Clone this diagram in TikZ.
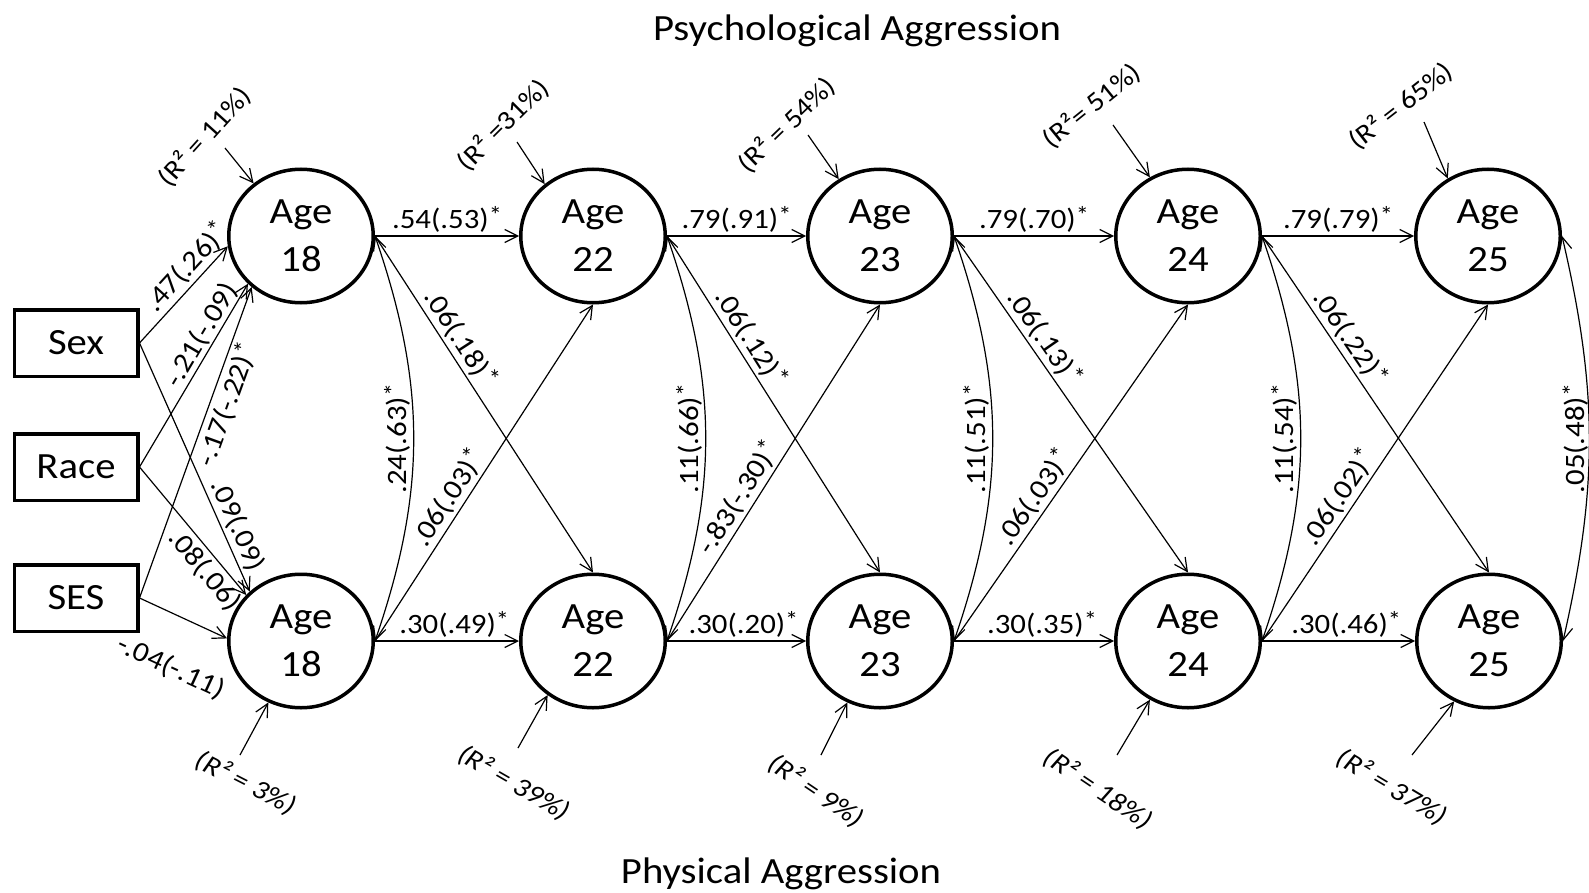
\documentclass[tikz,border=0pt]{standalone}
\usepackage{fontspec}
\setmainfont{Carlito}[FakeStretch=1.1]
\usetikzlibrary{arrows.meta,shapes.geometric}
% significance mark after a coefficient
\newcommand\sg{\raisebox{5pt}{\fontsize{24}{24}\selectfont *}}
\begin{document}
\begin{tikzpicture}[x=1pt, y=-1pt,
  >={Straight Barb[length=13pt,width=13pt]},
  age/.style={ellipse, draw, line width=3.5pt, minimum width=144.5pt,
    minimum height=133.5pt, inner sep=0pt, align=center,
    font=\fontsize{37}{48}\selectfont},
  var/.style={rectangle, draw, line width=3.5pt, minimum width=123.5pt,
    minimum height=66.5pt, inner sep=0pt, font=\fontsize{37}{44}\selectfont},
  heading/.style={font=\fontsize{37}{44}\selectfont, anchor=base},
  path/.style={->, line width=1.2pt},
  cov/.style={<->, line width=1.2pt},
  lab/.style={font=\fontsize{28}{30}\selectfont, inner sep=3pt},
  covlab/.style={lab, midway, sloped, above, allow upside down},
  rtop/.style={font=\fontsize{27}{30}\selectfont, inner sep=0pt},
  rbot/.style={font=\fontsize{27}{30}\selectfont\itshape, inner sep=0pt},
]
\useasboundingbox (0,0) rectangle (1589,893);

% headings
\node[heading] (psy) at (857,41) {Psychological Aggression};
\node[heading] (phy) at (781,883) {Physical Aggression};

% exogenous covariates
\node[var] (sex)  at (76,343) {Sex};
\node[var] (race) at (76,467) {Race};
\node[var] (ses)  at (76,598) {SES};

% psychological aggression (top row)
\node[age] (t18) at (301,236)  {Age\\18};
\node[age] (t22) at (593,236)  {Age\\22};
\node[age] (t23) at (880,236)  {Age\\23};
\node[age] (t24) at (1188,236) {Age\\24};
\node[age] (t25) at (1488,236) {Age\\25};

% physical aggression (bottom row)
\node[age] (b18) at (301,641)  {Age\\18};
\node[age] (b22) at (593,641)  {Age\\22};
\node[age] (b23) at (880,641)  {Age\\23};
\node[age] (b24) at (1188,641) {Age\\24};
\node[age] (b25) at (1489,641) {Age\\25};

% covariate effects
\draw[path] (sex.east) -- node[lab, pos=0.67, sloped, above] {.47(.26)\sg} (t18.188);
\draw[path] (race.east) -- node[lab, pos=0.68, sloped, above, inner sep=1pt] {-.21(-.09)} (t18.222);
\draw[path] (ses.east) -- node[lab, pos=0.64, sloped, below] {-.17(-.22)\sg} (t18.226);
\draw[path] (sex.east) -- node[lab, pos=0.76, sloped, above] {.09(.09)} (b18.136);
\draw[path] (race.east) -- node[lab, pos=0.73, sloped, below] {.08(.06)} (b18.140);
\draw[path] (ses.east) -- node[lab, pos=0.6, sloped, below=34pt] {-.04(-.11)} (b18.178);

% stability paths
\draw[path] (t18.east) -- node[lab, above] {.54(.53)\sg} (t22.west);
\draw[path] (t22.east) -- node[lab, above] {.79(.91)\sg} (t23.west);
\draw[path] (t23.east) -- node[lab, above] {.79(.70)\sg} (t24.west);
\draw[path] (t24.east) -- node[lab, above] {.79(.79)\sg} (t25.west);
\draw[path] (b18.east) -- node[lab, above, pos=0.55] {.30(.49)\sg} (b22.west);
\draw[path] (b22.east) -- node[lab, above, pos=0.55] {.30(.20)\sg} (b23.west);
\draw[path] (b23.east) -- node[lab, above, pos=0.55] {.30(.35)\sg} (b24.west);
\draw[path] (b24.east) -- node[lab, above, pos=0.55] {.30(.46)\sg} (b25.west);

% cross-lagged paths
\draw[path] (t18.east) -- node[lab, pos=0.33, sloped, above] {.06(.18)\sg} (b22.north);
\draw[path] (t22.east) -- node[lab, pos=0.33, sloped, above] {.06(.12)\sg} (b23.north);
\draw[path] (t23.east) -- node[lab, pos=0.33, sloped, above] {.06(.13)\sg} (b24.north);
\draw[path] (t24.east) -- node[lab, pos=0.33, sloped, above] {.06(.22)\sg} (b25.north);
\draw[path] (b18.east) -- node[lab, pos=0.4, sloped, above] {.06(.03)\sg} (t22.south);
\draw[path] (b22.east) -- node[lab, pos=0.4, sloped, above] {-.83(-.30)\sg} (t23.south);
\draw[path] (b23.east) -- node[lab, pos=0.4, sloped, above] {.06(.03)\sg} (t24.south);
\draw[path] (b24.east) -- node[lab, pos=0.4, sloped, above] {.06(.02)\sg} (t25.south);

% within-age covariances
\draw[cov] (b18.east) to[bend right=19] node[covlab] {.24(.63)\sg} (t18.east);
\draw[cov] (b22.east) to[bend right=19] node[covlab] {.11(.66)\sg} (t22.east);
\draw[cov] (b23.east) to[bend right=19] node[covlab] {.11(.51)\sg} (t23.east);
\draw[cov] (b24.east) to[bend right=19] node[covlab] {.11(.54)\sg} (t24.east);
\draw[cov] (b25.east) to[bend right=13] node[covlab, inner sep=0pt] {.05(.48)\sg} (t25.east);

% explained variance, psychological aggression
\node[rtop, rotate=48] (rt18) at (205,137)  {(R² = 11\%)};
\node[rtop, rotate=45] (rt22) at (503,125)  {(R² =31\%)};
\node[rtop, rotate=44] (rt23) at (787,125)  {(R² = 54\%)};
\node[rtop, rotate=39] (rt24) at (1092,106) {(R²= 51\%)};
\node[rtop, rotate=38] (rt25) at (1401,106) {(R² = 65\%)};
\coordinate (at18) at (225,148);
\coordinate (at22) at (517,142);
\coordinate (at23) at (808,135);
\coordinate (at24) at (1113,125);
\coordinate (at25) at (1424,122);
\draw[path] (at18) -- (t18.132);
\draw[path] (at22) -- (t22.133);
\draw[path] (at23) -- (t23.126);
\draw[path] (at24) -- (t24.123);
\draw[path] (at25) -- (t25.125);

% explained variance, physical aggression
\node[rbot, rotate=-27] (rb18) at (246,783)  {(R² = 3\%)};
\node[rbot, rotate=-30] (rb22) at (514,783)  {(R² = 39\%)};
\node[rbot, rotate=-34] (rb23) at (816,791)  {(R² = 9\%)};
\node[rbot, rotate=-34] (rb24) at (1098,789) {(R² = 18\%)};
\node[rbot, rotate=-31] (rb25) at (1392,787) {(R² = 37\%)};
\coordinate (ab18) at (240,755);
\coordinate (ab22) at (518,748);
\coordinate (ab23) at (821,755);
\coordinate (ab24) at (1117,755);
\coordinate (ab25) at (1412,755);
\draw[path] (ab18) -- (b18.242);
\draw[path] (ab22) -- (b22.230);
\draw[path] (ab23) -- (b23.242);
\draw[path] (ab24) -- (b24.237);
\draw[path] (ab25) -- (b25.240);
\end{tikzpicture}
\end{document}
